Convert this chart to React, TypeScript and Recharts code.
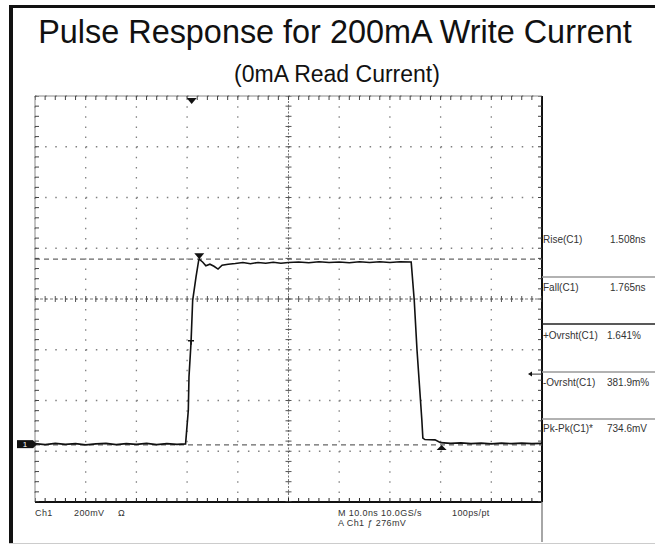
import { CartesianGrid, ComposedChart, Line, ReferenceDot, ReferenceLine, Scatter, XAxis, YAxis } from "recharts"

// scope trace, time from left edge of screen (ns), voltage from ch1 ground (mV)
const timeNs = [0, 2, 4, 6, 8, 10, 12, 14, 16, 18, 20, 22, 24, 26, 28, 29.7,
  30.24, 30.37, 30.77, 31.1, 31.76, 32.29, 32.4, 33.1, 33.7, 34.5, 35.3, 36.1, 36.9, 38.1,
  39.5, 41, 42.5, 44, 45.5, 47, 48.5, 50, 52, 54, 56, 58, 60, 62, 64, 66, 68, 70, 72, 74.2,
  74.8, 75.35, 76.3, 76.5, 76.9, 78.9, 80, 82, 84, 86, 88, 90, 92, 94, 96, 98, 100]
const traceMv = [2, -2, 3, -1, 2, -3, 1, 3, -2, 2, -1, 3, -2, 2, -1, 1,
  134, 265, 398, 567, 659, 725, 729, 717, 703, 709, 701, 690, 705, 709,
  712, 716, 711, 716, 713, 717, 713, 716, 718, 715, 719, 716, 718, 715, 719, 716, 719, 716, 719, 718,
  567, 370, 95, 24, 18, 17, 6, 3, 5, 2, 4, 1, 4, 2, 4, 2, 3]

// cursors and markers
const topCursorMv = 729
const baseCursorMv = -3
const peakNs = 32.4
const triggerPosNs = 30.9
const triggerLevelMv = 276
const midRiseNs = 30.77
const midRiseMv = 400
const minMarkNs = 80.2

const measureNames = ["Rise(C1)", "Fall(C1)", "+Ovrsht(C1)", "-Ovrsht(C1)", "Pk-Pk(C1)*"]
const measureValues = ["1.508ns", "1.765ns", "1.641%", "381.9m%", "734.6mV"]

// graticule
const NS_PER_DIV = 10
const MV_PER_DIV = 200
const X_DIVS = 10
const Y_DIVS = 8
const screenCenterMv = 572

const yMin = screenCenterMv - (Y_DIVS / 2) * MV_PER_DIV
const yMax = screenCenterMv + (Y_DIVS / 2) * MV_PER_DIV
const xMax = X_DIVS * NS_PER_DIV
const divX = Array.from({ length: X_DIVS + 1 }, (_, i) => i * NS_PER_DIV)
const divY = Array.from({ length: Y_DIVS + 1 }, (_, i) => yMin + i * MV_PER_DIV)
const minorX = Array.from({ length: X_DIVS * 5 + 1 }, (_, i) => (i * NS_PER_DIV) / 5)
const minorY = Array.from({ length: Y_DIVS * 5 + 1 }, (_, i) => yMin + (i * MV_PER_DIV) / 5)

const FONT = "'Liberation Sans', Arial, Helvetica, sans-serif"

// short tick drawn relative to a point
const tick = (x1: number, y1: number, x2: number, y2: number, color: string) => (p: any) => (
  <line x1={p.cx + x1} y1={p.cy + y1} x2={p.cx + x2} y2={p.cy + y2} stroke={color} strokeWidth={1} />
)

export default function App() {
  const data = timeNs.map((t, i) => ({ t, v: traceMv[i] }))
  const centerH = minorX.map((t) => ({ t, v: screenCenterMv }))
  const centerV = minorY.map((v) => ({ t: xMax / 2, v }))
  const topT = minorX.map((t) => ({ t, v: yMax }))
  const botT = minorX.map((t) => ({ t, v: yMin }))
  const leftT = minorY.map((v) => ({ t: 0, v }))
  const rightT = minorY.map((v) => ({ t: xMax, v }))
  const rows = [243, 291, 339, 386, 432]

  return (
    <div style={{ position: "relative", width: 655, height: 545, background: "#fff", overflow: "hidden" }}>
      <style>{"body{margin:0}"}</style>
      <ComposedChart width={655} height={545} data={data} margin={{ top: 96, right: 113, bottom: 43, left: 35 }}>
        <XAxis dataKey="t" type="number" domain={[0, xMax]} ticks={divX} hide allowDataOverflow />
        <YAxis type="number" domain={[yMin, yMax]} ticks={divY} hide allowDataOverflow />
        <CartesianGrid stroke="#808080" strokeWidth={1.3} strokeDasharray="1.5 8.64" />
        <ReferenceLine x={xMax / 2} stroke="#777" strokeDasharray="2 1.5" />
        <ReferenceLine y={screenCenterMv} stroke="#777" strokeDasharray="3 2" />
        <ReferenceLine y={yMax} stroke="#888" />
        <ReferenceLine x={0} stroke="#888" />
        <ReferenceLine y={yMin} stroke="#111" strokeWidth={2} />
        <ReferenceLine x={xMax} stroke="#111" strokeWidth={2} />
        <Scatter data={centerH} dataKey="v" isAnimationActive={false} shape={tick(0, -3, 0, 3, "#555")} />
        <Scatter data={centerV} dataKey="v" isAnimationActive={false} shape={tick(-3, 0, 3, 0, "#555")} />
        <Scatter data={topT} dataKey="v" isAnimationActive={false} shape={tick(0, 0, 0, 4, "#444")} />
        <Scatter data={botT} dataKey="v" isAnimationActive={false} shape={tick(0, 0, 0, -4, "#222")} />
        <Scatter data={leftT} dataKey="v" isAnimationActive={false} shape={tick(0, 0, 4, 0, "#444")} />
        <Scatter data={rightT} dataKey="v" isAnimationActive={false} shape={tick(0, 0, -4, 0, "#444")} />
        <ReferenceLine y={topCursorMv} stroke="#666" strokeWidth={1.3} strokeDasharray="5 4" />
        <ReferenceLine y={baseCursorMv} stroke="#666" strokeWidth={1.3} strokeDasharray="5 4" />
        <Line dataKey="v" type="linear" stroke="#111" strokeWidth={1.6} dot={false} isAnimationActive={false} />
        <ReferenceDot x={triggerPosNs} y={yMax} ifOverflow="visible"
          shape={(p: any) => <path d={`M${p.cx - 5},${p.cy + 2} L${p.cx + 5},${p.cy + 2} L${p.cx},${p.cy + 8} Z`} fill="#111" />} />
        <ReferenceDot x={peakNs} y={topCursorMv} ifOverflow="visible"
          shape={(p: any) => <path d={`M${p.cx - 5},${p.cy - 6} L${p.cx + 5},${p.cy - 6} L${p.cx},${p.cy} Z`} fill="#111" />} />
        <ReferenceDot x={minMarkNs} y={baseCursorMv} ifOverflow="visible"
          shape={(p: any) => <path d={`M${p.cx},${p.cy} L${p.cx + 5},${p.cy + 5} L${p.cx - 5},${p.cy + 5} Z`} fill="#111" />} />
        <ReferenceDot x={midRiseNs} y={midRiseMv} ifOverflow="visible"
          shape={(p: any) => <path d={`M${p.cx - 3},${p.cy - 2} L${p.cx + 3},${p.cy - 2} M${p.cx},${p.cy - 2} L${p.cx},${p.cy + 2}`} stroke="#111" strokeWidth={1.5} />} />
        <ReferenceDot x={0} y={0} ifOverflow="visible"
          shape={(p: any) => (
            <g>
              <rect x={p.cx - 18} y={p.cy - 4} width={16} height={8} fill="#111" />
              <path d={`M${p.cx - 2},${p.cy - 4} L${p.cx + 2},${p.cy} L${p.cx - 2},${p.cy + 4} Z`} fill="#111" />
              <text x={p.cx - 10} y={p.cy + 3} fontSize={8} fill="#fff" textAnchor="middle" fontFamily={FONT}>1</text>
            </g>
          )} />
        <ReferenceDot x={xMax} y={triggerLevelMv} ifOverflow="visible"
          shape={(p: any) => (
            <g>
              <path d={`M${p.cx - 14},${p.cy} L${p.cx - 10},${p.cy - 2.5} L${p.cx - 10},${p.cy + 2.5} Z`} fill="#111" />
              <line x1={p.cx - 10} x2={p.cx} y1={p.cy} y2={p.cy} stroke="#333" />
            </g>
          )} />
      </ComposedChart>

      <svg width={655} height={545} style={{ position: "absolute", left: 0, top: 0, pointerEvents: "none" }} fontFamily={FONT}>
        <rect x={9} y={5} width={4} height={538} fill="#111" />
        <rect x={9} y={5} width={646} height={3} fill="#111" />
        <line x1={9} x2={655} y1={543.5} y2={543.5} stroke="#ccc" />
        <line x1={542} x2={542} y1={502} y2={542} stroke="#888" strokeWidth={1.5} />
        <text x={335} y={43} textAnchor="middle" fontSize={32.4} fill="#111">Pulse Response for 200mA Write Current</text>
        <text x={337} y={82} textAnchor="middle" fontSize={23} fill="#111">(0mA Read Current)</text>

        <line x1={542} x2={655} y1={277} y2={277} stroke="#999" strokeWidth={1.5} />
        <line x1={542} x2={655} y1={324} y2={324} stroke="#222" strokeWidth={1.5} />
        <line x1={542} x2={655} y1={372} y2={372} stroke="#999" strokeWidth={1.5} />
        <line x1={542} x2={655} y1={419} y2={419} stroke="#999" strokeWidth={1.5} />
        {measureNames.map((name, i) => (
          <g key={name} fontSize={10} fill="#333">
            <text x={543} y={rows[i]}>{name}</text>
            <text x={i < 2 ? 610 : 607} y={rows[i]}>{measureValues[i]}</text>
          </g>
        ))}

        <g fontSize={9} fill="#333" letterSpacing={0.4}>
          <text x={35} y={516}>Ch1</text>
          <text x={74} y={516}>200mV</text>
          <text x={118} y={516}>Ω</text>
          <text x={338} y={516}>M 10.0ns 10.0GS/s</text>
          <text x={452} y={516}>100ps/pt</text>
          <text x={338} y={526}>A Ch1 ƒ 276mV</text>
        </g>
      </svg>
    </div>
  )
}
